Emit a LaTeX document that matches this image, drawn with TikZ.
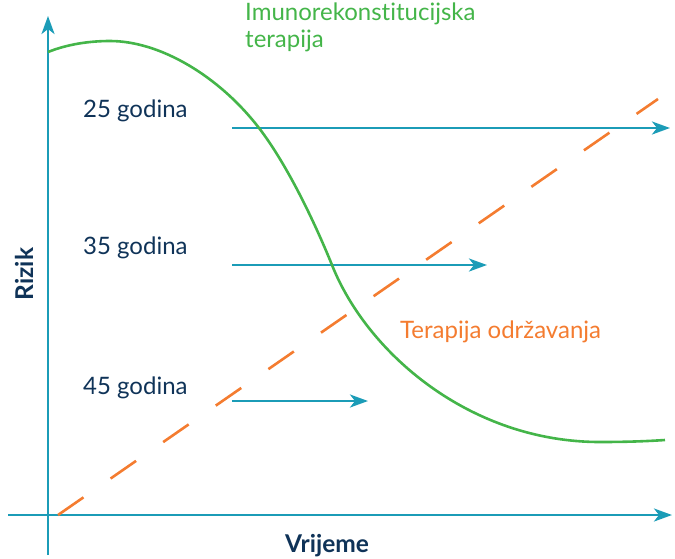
\documentclass[tikz,border=0pt]{standalone}
\usepackage{fontspec}
\setmainfont{Lato}[Ligatures={NoCommon}]
\usetikzlibrary{arrows.meta}
\definecolor{teal1}{HTML}{1B9CB7}
\definecolor{green1}{HTML}{44B549}
\definecolor{orange1}{HTML}{F47C30}
\definecolor{navy1}{HTML}{0F3358}
\tikzset{
  axisline/.style={draw=teal1, line width=2.6pt, -{Stealth[length=18pt,width=13pt,inset=5pt]}},
  agearrow/.style={draw=teal1, line width=2.6pt, -{Stealth[length=18pt,width=13pt,inset=5pt]}},
  txt/.style={font=\fontsize{24}{27}\selectfont, inner sep=0pt},
  agelabel/.style={txt, text=navy1, anchor=base west},
  axislabel/.style={text=navy1, font=\fontsize{24.5}{27}\selectfont\bfseries, inner sep=0pt},
  greencurve/.style={draw=green1, line width=2.6pt},
  orangedash/.style={draw=orange1, line width=2.6pt, dash pattern=on 31pt off 33pt},
}
\begin{document}
\begin{tikzpicture}[x=1pt,y=-1pt]
\useasboundingbox (0,0) rectangle (675,558);
% axes
\coordinate (yb) at (48,555);
\coordinate (yt) at (48,16);
\coordinate (xl) at (8,515);
\coordinate (xr) at (672,515);
\draw[axisline] (yb) -- (yt);
\draw[axisline] (xl) -- (xr);
% orange dashed line
\coordinate (os) at (58,515);
\coordinate (oe) at (658,99);
\draw[orangedash] (os) -- (oe);
% age arrows
\coordinate (a25s) at (232,128);
\coordinate (a25e) at (670,128);
\coordinate (a35s) at (232,265);
\coordinate (a35e) at (487,265);
\coordinate (a45s) at (232,401);
\coordinate (a45e) at (368,401);
\draw[agearrow] (a25s) -- (a25e);
\draw[agearrow] (a35s) -- (a35e);
\draw[agearrow] (a45s) -- (a45e);
% green curve
\draw[greencurve] (48,52) .. controls (68,44) and (90,41) .. (110,41)
  .. controls (160,41) and (219,76) .. (259,128)
  .. controls (289,167) and (317,228) .. (332,265)
  .. controls (367,353) and (470,442) .. (600,442)
  .. controls (630,442) and (650,441) .. (665,440);
% labels
\node[agelabel] (l25) at (83,117) {25 godina};
\node[agelabel] (l35) at (83,254) {35 godina};
\node[agelabel] (l45) at (83,394) {45 godina};
\node[txt, anchor=base west, text=green1, align=left] (imu) at (245,47) {Imunorekonstitucijska\\terapija};
\node[txt, anchor=base west, text=orange1] (odr) at (400,338) {Terapija održavanja};
\node[axislabel, rotate=90, anchor=base] (riz) at (33,274) {Rizik};
\node[axislabel, anchor=base] (vri) at (327,552) {Vrijeme};
\end{tikzpicture}
\end{document}
